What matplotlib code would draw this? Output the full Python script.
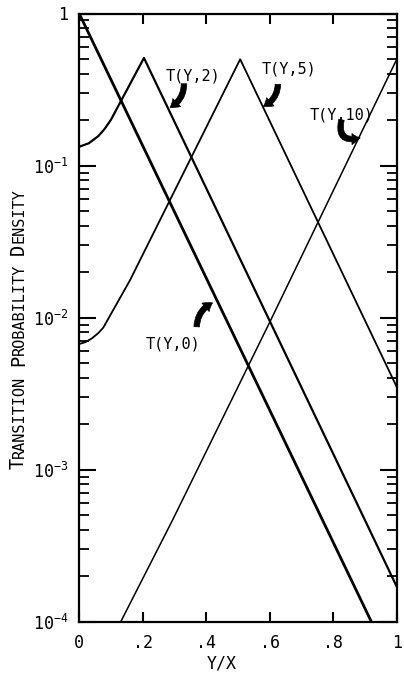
import numpy as np
import matplotlib
matplotlib.use("Agg")
import matplotlib.pyplot as plt
from matplotlib.ticker import FixedLocator, LogLocator, NullFormatter

# typewriter-like sans, monospaced
plt.rcParams['font.family'] = ['DejaVu Sans Mono']
plt.rcParams['mathtext.default'] = 'regular'

# curves (Y/X, density)
y0_x = [0.0, 0.92]
y0_t = [1.0, 1.0e-4]

y2_x = [0.0, 0.03, 0.06, 0.08, 0.10, 0.13, 0.204, 1.0]
y2_t = [0.133, 0.140, 0.156, 0.174, 0.200, 0.262, 0.51, 1.7e-4]

y5_x = [0.0, 0.02, 0.04, 0.06, 0.076, 0.16, 0.507, 1.0]
y5_t = [0.0067, 0.0069, 0.0073, 0.0079, 0.0086, 0.0176, 0.50, 0.0035]

y10_x = [0.131, 0.295, 0.603, 1.0]
y10_t = [1.0e-4, 4.7e-4, 0.0096, 0.50]

xticks = [0, 0.2, 0.4, 0.6, 0.8, 1.0]
xticklabels = ['0', '.2', '.4', '.6', '.8', '1']
yticks = [1e-4, 1e-3, 1e-2, 1e-1, 1]
yticklabels = ['$10^{-4}$', '$10^{-3}$', '$10^{-2}$', '$10^{-1}$', '1']

fig = plt.figure(figsize=(4.04, 6.75), dpi=100)
ax = fig.add_axes([0.196, 0.079, 0.786, 0.901])

ax.plot(y0_x, y0_t, color='black', lw=2.0)
ax.plot(y2_x, y2_t, color='black', lw=1.6)
ax.plot(y5_x, y5_t, color='black', lw=1.3)
ax.plot(y10_x, y10_t, color='black', lw=1.1)

ax.set_yscale('log')
ax.set_xlim(0, 1)
ax.set_ylim(1e-4, 1)

ax.set_xticks(xticks)
ax.set_xticklabels(xticklabels, fontsize=12)
ax.yaxis.set_major_locator(FixedLocator(yticks))
ax.set_yticklabels(yticklabels, fontsize=12)
ax.yaxis.set_minor_locator(LogLocator(base=10, subs=np.arange(2, 10)))
ax.yaxis.set_minor_formatter(NullFormatter())

ax.tick_params(axis='x', which='major', direction='in', top=True, bottom=True,
               length=7, width=1.5, pad=9)
ax.tick_params(axis='y', which='major', direction='in', left=True, right=True,
               length=12, width=1.5, pad=8)
ax.tick_params(axis='y', which='minor', direction='in', left=True, right=True,
               length=7, width=1.3)
for s in ax.spines.values():
    s.set_linewidth(1.6)

ax.text(0.45, -0.068, 'Y/X', transform=ax.transAxes, ha='center', va='center', fontsize=12)

# curve labels with short thick arrows
labels = [
    ('T(Y,2)', 0.36, 0.387, (0.33, 0.345), (0.286, 0.241), -0.3),
    ('T(Y,5)', 0.662, 0.433, (0.626, 0.342), (0.580, 0.245), -0.3),
    ('T(Y,10)', 0.826, 0.214, (0.826, 0.200), (0.885, 0.152), 0.8),
    ('T(Y,0)', 0.297, 0.0067, (0.37, 0.0087), (0.42, 0.0125), -0.3),
]
for txt, tx, ty, tail, tip, rad in labels:
    ax.text(tx, ty, txt, ha='center', va='center', fontsize=11)
    ax.annotate('', xy=tip, xytext=tail,
                arrowprops=dict(arrowstyle='simple,head_length=0.6,head_width=0.8,tail_width=0.4',
                                connectionstyle='arc3,rad=%s' % rad, color='black', lw=0.5,
                                shrinkA=0, shrinkB=0))

# y label in small caps, built piece by piece
pieces = [('T', 13.5), ('RANSITION', 11), (' ', 11), ('P', 13.5), ('ROBABILITY', 11),
          (' ', 11), ('D', 13.5), ('ENSITY', 11)]
renderer = fig.canvas.get_renderer()
fig_h = fig.get_size_inches()[1] * fig.dpi
texts = []
total = 0.0
for s, size in pieces:
    t = fig.text(0.059, 0, s if s != ' ' else 'I', rotation=90, rotation_mode='anchor',
                 ha='left', va='baseline', fontsize=size)
    h = t.get_window_extent(renderer).height
    if s == ' ':
        t.remove()
        t = None
    texts.append((t, h))
    total += h
pos = 0.513 - total / fig_h / 2
for t, h in texts:
    if t is not None:
        t.set_y(pos)
    pos += h / fig_h

fig.savefig('out.png', dpi=100)
